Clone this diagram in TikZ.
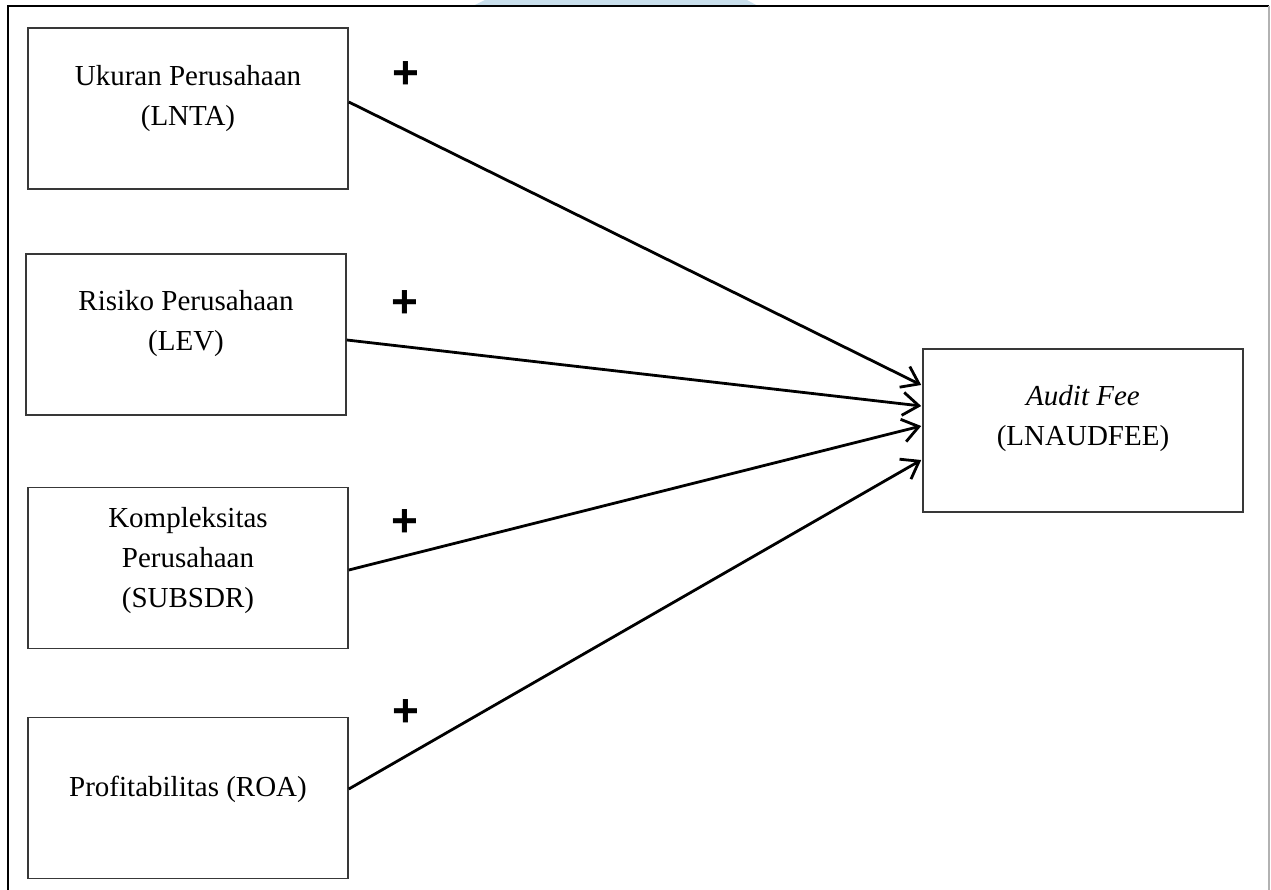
\documentclass[tikz,border=0pt]{standalone}
\usepackage{fontspec}
\setmainfont{Liberation Serif}
\newfontfamily\plusfont{Liberation Sans}
\usetikzlibrary{arrows.meta,calc}
\definecolor{wmblue}{HTML}{C9DFEC}
\definecolor{boxgray}{HTML}{383838}
\begin{document}
\begin{tikzpicture}[x=1pt,y=-1pt,
  varbox/.style={draw=boxgray,line width=1.6pt,minimum width=320pt,minimum height=161pt,inner sep=0pt},
  vartext/.style={align=center,font=\fontsize{29}{40}\selectfont,inner sep=0pt},
  plussign/.style={font=\plusfont\bfseries\fontsize{46}{46}\selectfont,inner sep=0pt},
  link/.style={line width=2.8pt,-{Straight Barb[length=16pt,width=23pt,line width=2.8pt]}}]
\useasboundingbox (0,0) rectangle (1271,890);
% watermark fragment and frame
\fill[wmblue] (473,6) -- (758,6) -- (747,0) -- (485,0) -- cycle;
\draw[line width=2.2pt] (8,890) -- (8,6) -- (1269,6);
\draw[line width=1.6pt,color=black!30] (1269,6) -- (1269,890);
% boxes
\node[varbox] (b1) at (188,108.5) {};
\node[varbox] (b2) at (186,334.5) {};
\node[varbox] (b3) at (188,568) {};
\node[varbox] (b4) at (188,798) {};
\node[varbox,minimum height=163pt] (out) at (1083,430.5) {};
% texts
\node[vartext] (t1) at (188,99) {Ukuran Perusahaan\\(LNTA)};
\node[vartext] (t2) at (186,324) {Risiko Perusahaan\\(LEV)};
\node[vartext] (t3) at (188,561) {Kompleksitas\\Perusahaan\\(SUBSDR)};
\node[vartext] (t4) at (188,789) {Profitabilitas (ROA)};
\node[vartext] (t5) at (1083,419) {\textit{Audit Fee}\\(LNAUDFEE)};
% plus signs
\node[plussign] (p1) at (406,75) {+};
\node[plussign] (p2) at (405,304) {+};
\node[plussign] (p3) at (405,523) {+};
\node[plussign] (p4) at (406,713) {+};
% connectors
\draw[link] ($(b1.east)+(0,-6.5)$) -- ($(out.west)+(-1,-45.5)$);
\draw[link] ($(b2.east)+(0,5.5)$) -- ($(out.west)+(-1,-24.5)$);
\draw[link] ($(b3.east)+(0,2)$) -- ($(out.west)+(-1,-4.5)$);
\draw[link] ($(b4.east)+(0,-9)$) -- ($(out.west)+(-1,29.5)$);
\end{tikzpicture}
\end{document}
